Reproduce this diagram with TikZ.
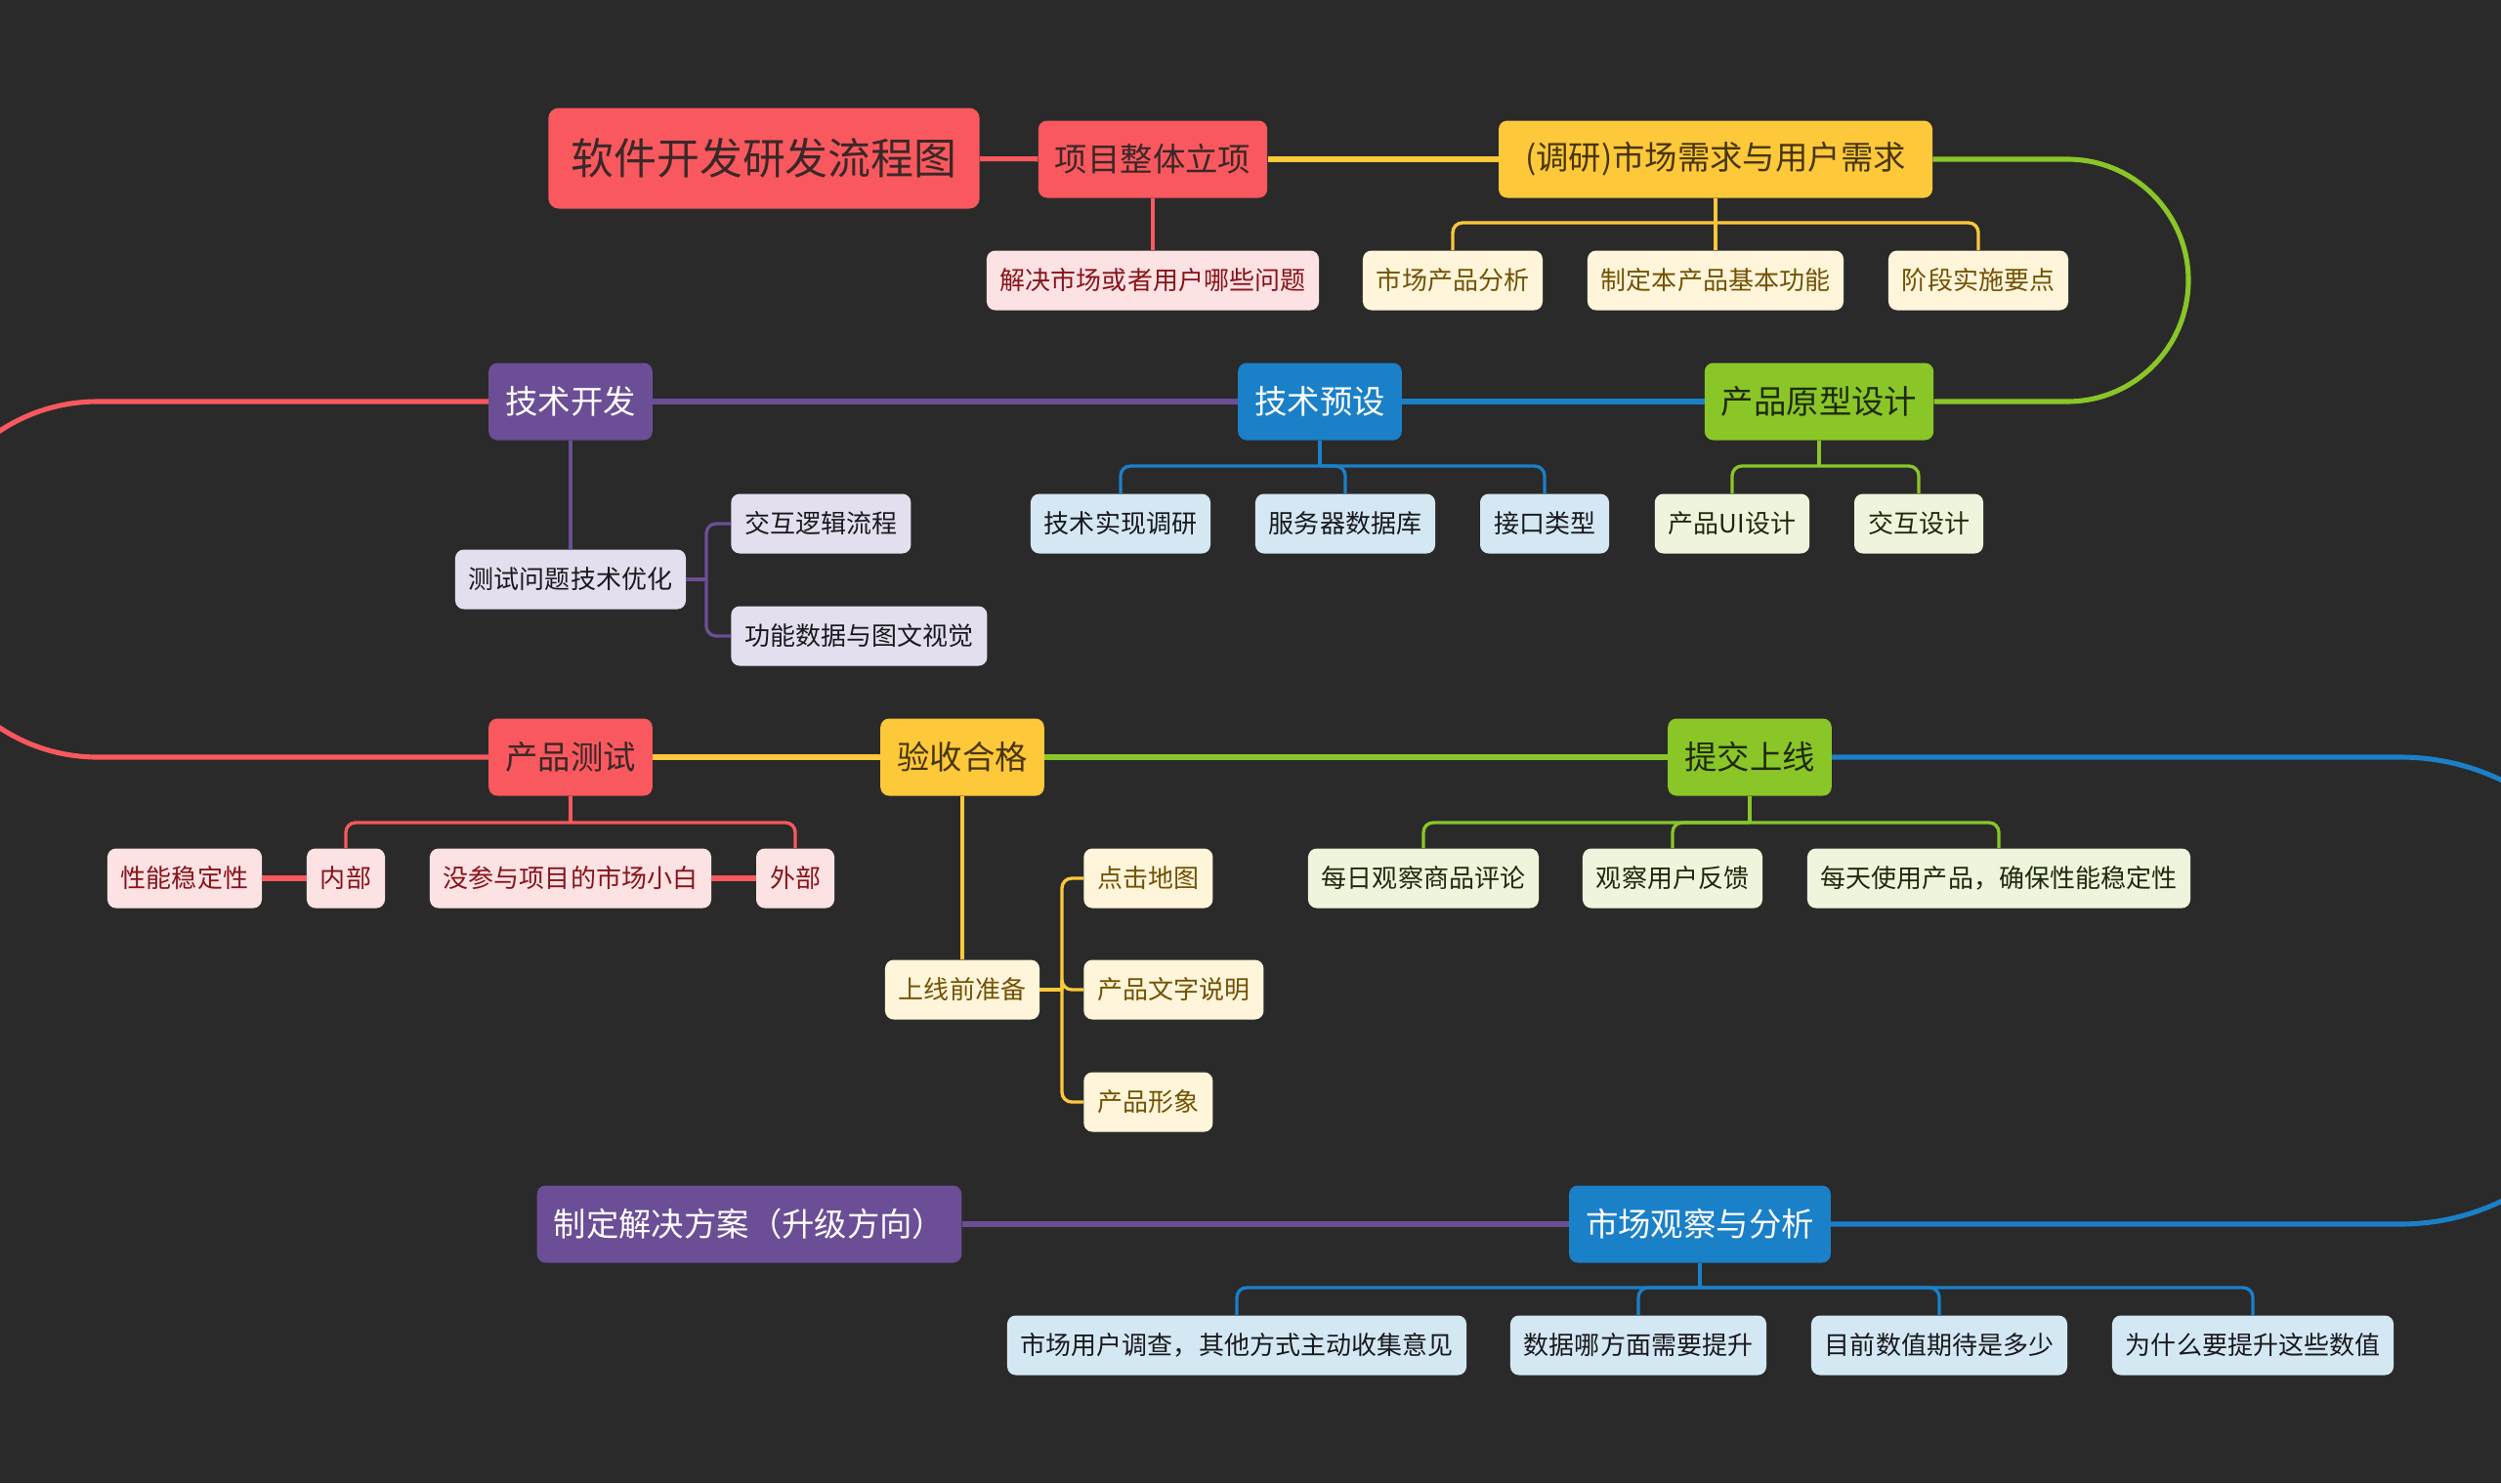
\documentclass[tikz,border=0pt]{standalone}
\usepackage{fontspec}
\setmainfont{Noto Sans CJK SC}

\definecolor{fond}{RGB}{42,42,42}
\definecolor{rouge}{RGB}{249,88,94}
\definecolor{jaune}{RGB}{253,200,58}
\definecolor{vert}{RGB}{138,198,40}
\definecolor{bleu}{RGB}{26,128,200}
\definecolor{mauve}{RGB}{107,78,150}
\definecolor{rougeclair}{RGB}{253,226,228}
\definecolor{jauneclair}{RGB}{255,245,218}
\definecolor{vertclair}{RGB}{238,245,220}
\definecolor{bleuclair}{RGB}{212,232,244}
\definecolor{mauveclair}{RGB}{228,223,238}
\definecolor{sombre}{RGB}{58,40,40}
\definecolor{brun}{RGB}{72,54,10}
\definecolor{olive}{RGB}{30,42,10}
\definecolor{texterouge}{RGB}{135,20,25}
\definecolor{textejaune}{RGB}{115,82,5}
\definecolor{noir}{RGB}{25,25,30}

\begin{document}
\begin{tikzpicture}
	\tikzset{racine/.style={rounded corners=6pt, fill=rouge, text=sombre, minimum height=2.06cm, inner xsep=0.46cm, font=\fontsize{25}{30}\selectfont},
	sujet/.style={rounded corners=5pt, minimum height=1.58cm, inner xsep=0.34cm, font=\fontsize{19}{23}\selectfont},
	feuille/.style={rounded corners=5pt, minimum height=1.22cm, inner xsep=0.28cm, font=\fontsize{14.8}{18}\selectfont},
	srouge/.style={sujet, fill=rouge, text=sombre},
	sjaune/.style={sujet, fill=jaune, text=brun},
	svert/.style={sujet, fill=vert, text=olive},
	sbleu/.style={sujet, fill=bleu, text=white},
	smauve/.style={sujet, fill=mauve, text=white},
	frouge/.style={feuille, fill=rougeclair, text=texterouge},
	fjaune/.style={feuille, fill=jauneclair, text=textejaune},
	fvert/.style={feuille, fill=vertclair, text=olive},
	fbleu/.style={feuille, fill=bleuclair, text=noir},
	fmauve/.style={feuille, fill=mauveclair, text=noir},
	lien/.style={line width=2.9pt},
	branche/.style={line width=1.9pt, rounded corners=0.2cm}};

	\useasboundingbox (0,0) rectangle (51.2,-30.36);
	\clip (0,0) rectangle (51.2,-30.36);
	\fill[fond] (0,0) rectangle (51.2,-30.36);

	% grands sujets
	\node[racine] (racine) at (15.64,-3.24) {软件开发研发流程图};
	\node[srouge] (projet) at (23.6,-3.26) {项目整体立项};
	\node[sjaune, minimum width=8.88cm] (etude) at (35.12,-3.26) {(调研)市场需求与用户需求};
	\node[svert] (proto) at (37.24,-8.22) {产品原型设计};
	\node[sbleu] (preset) at (27.02,-8.22) {技术预设};
	\node[smauve] (dev) at (11.68,-8.22) {技术开发};
	\node[srouge] (test) at (11.68,-15.5) {产品测试};
	\node[sjaune] (accept) at (19.7,-15.5) {验收合格};
	\node[svert] (online) at (35.82,-15.5) {提交上线};
	\node[sbleu] (marche) at (34.8,-25.06) {市场观察与分析};
	\node[smauve] (plan) at (15.34,-25.06) {制定解决方案（升级方向）};

	\draw[lien, rouge] (racine) -- (projet);
	\draw[lien, jaune] (projet) -- (etude);
	\draw[lien, vert] (etude.east) -- (42.32,-3.26) arc[start angle=90, end angle=-90, radius=2.48] -- (proto.east);
	\draw[lien, bleu] (proto) -- (preset);
	\draw[lien, mauve] (preset) -- (dev);
	\draw[lien, rouge] (dev.west) -- (2,-8.22) arc[start angle=90, end angle=270, radius=3.64] -- (test.west);
	\draw[lien, jaune] (test) -- (accept);
	\draw[lien, vert] (accept) -- (online);
	\draw[lien, bleu] (online.east) -- (49.14,-15.5) arc[start angle=90, end angle=-90, radius=4.78] -- (marche.east);
	\draw[lien, mauve] (marche) -- (plan);

	% projet et etude
	\node[frouge] (probleme) at (23.6,-5.74) {解决市场或者用户哪些问题};
	\draw[branche, rouge] (projet) -- (probleme);

	\coordinate (j1) at (35.12,-4.56);
	\draw[branche, jaune] (etude) -- (j1);
	\foreach \x/\nom/\texte in {29.74/analyse/市场产品分析, 35.12/fonction/制定本产品基本功能, 40.5/etape/阶段实施要点}{
		\node[fjaune] (\nom) at (\x,-5.74) {\texte};
		\draw[branche, jaune] (j1) -| (\nom.north);
	}

	% technique
	\coordinate (j2) at (27.02,-9.54);
	\draw[branche, bleu] (preset) -- (j2);
	\foreach \x/\nom/\texte in {22.94/realisation/技术实现调研, 27.54/serveur/服务器数据库, 31.62/interface/接口类型}{
		\node[fbleu] (\nom) at (\x,-10.72) {\texte};
		\draw[branche, bleu] (j2) -| (\nom.north);
	}

	\coordinate (j3) at (37.24,-9.54);
	\draw[branche, vert] (proto) -- (j3);
	\foreach \x/\nom/\texte in {35.46/ui/产品UI设计, 39.28/interaction/交互设计}{
		\node[fvert] (\nom) at (\x,-10.72) {\texte};
		\draw[branche, vert] (j3) -| (\nom.north);
	}

	\node[fmauve] (optim) at (11.68,-11.86) {测试问题技术优化};
	\draw[branche, mauve] (dev) -- (optim);
	\coordinate (j4) at (14.46,-11.86);
	\draw[branche, mauve] (optim.east) -- (j4);
	\foreach \y/\nom/\texte in {-10.72/logique/交互逻辑流程, -13.02/visuel/功能数据与图文视觉}{
		\node[fmauve, anchor=west] (\nom) at (14.96,\y) {\texte};
		\draw[branche, mauve] (j4) |- (\nom.west);
	}

	% tests et mise en ligne
	\coordinate (j5) at (11.68,-16.84);
	\draw[branche, rouge] (test) -- (j5);
	\foreach \x/\nom/\texte in {7.08/interne/内部, 16.28/externe/外部}{
		\node[frouge] (\nom) at (\x,-17.98) {\texte};
		\draw[branche, rouge] (j5) -| (\nom.north);
	}
	\node[frouge] (stable) at (3.78,-17.98) {性能稳定性};
	\node[frouge] (novice) at (11.68,-17.98) {没参与项目的市场小白};
	\draw[lien, rouge] (stable) -- (interne);
	\draw[lien, rouge] (novice) -- (externe);

	\node[fjaune] (prepa) at (19.7,-20.26) {上线前准备};
	\draw[branche, jaune] (accept) -- (prepa);
	\coordinate (j6) at (21.74,-20.26);
	\draw[branche, jaune] (prepa.east) -- (j6);
	\foreach \y/\nom/\texte in {-17.98/carte/点击地图, -20.26/notice/产品文字说明, -22.56/image/产品形象}{
		\node[fjaune, anchor=west] (\nom) at (22.18,\y) {\texte};
		\draw[branche, jaune] (j6) |- (\nom.west);
	}

	\coordinate (j7) at (35.82,-16.84);
	\draw[branche, vert] (online) -- (j7);
	\foreach \x/\nom/\texte in {29.14/avis/每日观察商品评论, 34.24/retour/观察用户反馈, 40.92/usage/每天使用产品，确保性能稳定性}{
		\node[fvert] (\nom) at (\x,-17.98) {\texte};
		\draw[branche, vert] (j7) -| (\nom.north);
	}

	% marche
	\coordinate (j8) at (34.8,-26.36);
	\draw[branche, bleu] (marche) -- (j8);
	\foreach \x/\nom/\texte in {25.32/enquete/市场用户调查，其他方式主动收集意见, 33.54/donnees/数据哪方面需要提升, 39.7/attente/目前数值期待是多少, 46.12/raison/为什么要提升这些数值}{
		\node[fbleu] (\nom) at (\x,-27.54) {\texte};
		\draw[branche, bleu] (j8) -| (\nom.north);
	}

\end{tikzpicture}
\end{document}
